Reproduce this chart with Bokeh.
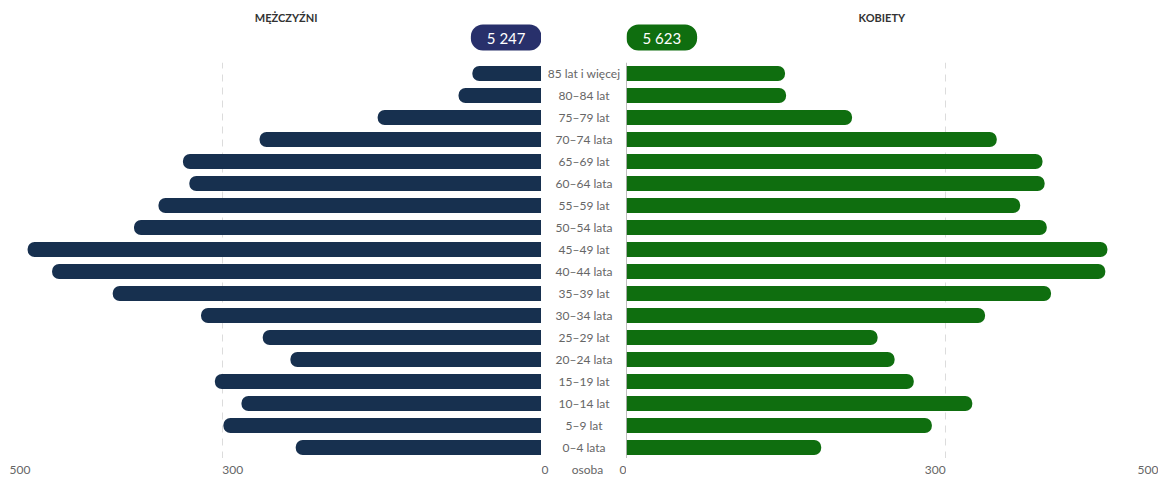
from bokeh.plotting import figure
from bokeh.layouts import column, row
from bokeh.models import (Range1d, FactorRange, FixedTicker, Span, ColumnDataSource,
                          Spacer)
from bokeh.core.properties import value
from bokeh.embed import file_html
from bokeh.resources import INLINE

# ---------------- data (bottom -> top) ----------------
age_groups = ["0–4 lata", "5–9 lat", "10–14 lat", "15–19 lat", "20–24 lata",
              "25–29 lat", "30–34 lata", "35–39 lat", "40–44 lata", "45–49 lat",
              "50–54 lata", "55–59 lat", "60–64 lata", "65–69 lat", "70–74 lata",
              "75–79 lat", "80–84 lat", "85 lat i więcej"]
men = [231, 299, 282, 307, 236, 262, 320, 403, 460, 483,
       383, 360, 331, 337, 265, 154, 78, 65]
women = [183, 287, 325, 270, 252, 236, 337, 399, 450, 452,
         395, 370, 393, 391, 348, 212, 150, 149]
men_total = 5247
women_total = 5623
sex_titles = ["MĘŻCZYŹNI", "KOBIETY"]
axis_ticks = [0, 300, 500]
axis_tick_labels = ["0", "300", "500"]
grid_ticks = [300, 500]
unit_label = "osoba"

# ---------------- style ----------------
FONT = "Lato"
NAVY = "#17304f"
NAVY_BADGE = "#28306b"
GREEN = "#0f6e0f"
LABEL_C = "#666666"

W_SIDE_L, W_MID, W_SIDE_R = 541, 85, 532
H_HEAD, H_BODY, H_STRIP = 59, 399, 19
BODY_TOP = 3


def fmt(n):
    return f"{n:,}".replace(",", " ")


src = ColumnDataSource(dict(age=age_groups, men=men, women=women))
y_range = FactorRange(factors=age_groups)
x_left = Range1d(500, 0)
x_right = Range1d(0, 500)
x_mid = Range1d(0, 1)


def base(width, height, x_range, y_range, **kw):
    p = figure(width=width, height=height, x_range=x_range, y_range=y_range,
               output_backend="svg", toolbar_location=None,
               x_axis_location=None, y_axis_location=None, **kw)
    p.outline_line_color = None
    p.background_fill_color = "white"
    p.border_fill_color = "white"
    return p


def body(x_range, width, mbl, mbr):
    p = base(width, H_BODY, x_range, y_range,
             min_border_left=mbl, min_border_right=mbr,
             min_border_top=BODY_TOP, min_border_bottom=0)
    p.ygrid.grid_line_color = None
    p.xgrid.ticker = FixedTicker(ticks=grid_ticks)
    p.xgrid.grid_line_color = "#dcdcdc"
    p.xgrid.grid_line_dash = "7 6"
    return p


# left (men)
pl = body(x_left, W_SIDE_L, 9, 0)
pl.hbar(y="age", left=0, right="men", height=0.68, source=src,
        fill_color=NAVY, line_color=None, border_radius=(7, 0, 0, 7))
pl.add_layout(Span(location=0, dimension="height", line_color="#808080", line_width=1))

# right (women)
pr = body(x_right, W_SIDE_R, 0, 0)
pr.hbar(y="age", left=0, right="women", height=0.68, source=src,
        fill_color=GREEN, line_color=None, border_radius=(0, 7, 7, 0))
pr.add_layout(Span(location=0, dimension="height", line_color="#808080", line_width=1))

# middle (category labels)
pm = base(W_MID, H_BODY, x_mid, y_range, min_border_left=0, min_border_right=0,
          min_border_top=BODY_TOP, min_border_bottom=0)
pm.grid.grid_line_color = None
pm.text(x=0.5, y="age", text="age", source=src, text_align="center",
        text_baseline="middle", text_font=value(FONT), text_font_size="12px",
        text_color=LABEL_C)


# ---------------- tick-label strip (shares the x scales) ----------------
def strip(x_range, width, mbl):
    s = base(width, H_STRIP, x_range, Range1d(0, H_STRIP),
             min_border_left=mbl, min_border_right=0, min_border_top=0,
             min_border_bottom=0)
    s.grid.visible = False
    return s


def tick_text(s, xs, texts, align):
    s.text(x=xs, y=[8] * len(xs), text=texts, text_align=align,
           text_baseline="middle", text_font=value(FONT), text_font_size="12px",
           text_color=LABEL_C)


# non-zero ticks inside each side panel, the two zero ticks at the centre column
nz = [i for i, t in enumerate(axis_ticks) if t != 0]
z = [i for i, t in enumerate(axis_ticks) if t == 0][0]

sl = strip(x_left, W_SIDE_L, 9)
tick_text(sl, [axis_ticks[i] for i in nz], [axis_tick_labels[i] for i in nz], "left")
sr = strip(x_right, W_SIDE_R, 0)
tick_text(sr, [axis_ticks[i] for i in nz], [axis_tick_labels[i] for i in nz], "right")
sm = strip(x_mid, W_MID, 0)
tick_text(sm, [0], [axis_tick_labels[z]], "left")    # men axis zero (left edge)
tick_text(sm, [1], [axis_tick_labels[z]], "right")   # women axis zero (right edge)
tick_text(sm, [0.54], [unit_label], "center")


# ---------------- headers ----------------
def header(x_range, width, mbl, title, total, color, align):
    h = base(width, H_HEAD, x_range, Range1d(0, H_HEAD),
             min_border_left=mbl, min_border_right=0, min_border_top=0,
             min_border_bottom=0)
    h.grid.visible = False
    h.text(x=[240], y=[H_HEAD - 17], text=[title], text_align="center",
           text_baseline="middle", text_font=value(FONT), text_font_size="11px",
           text_font_style="bold", text_color="#333333")
    h.text(x=[0], y=[H_HEAD - 37], text=[fmt(total)], text_align=align,
           text_baseline="middle", text_font=value(FONT), text_font_size="15px",
           text_color="white", background_fill_color=color, border_radius=12,
           padding=(16, 4))
    return h


hl = header(x_left, W_SIDE_L, 9, sex_titles[0], men_total, NAVY_BADGE, "right")
hr = header(x_right, W_SIDE_R, 0, sex_titles[1], women_total, GREEN, "left")

layout = column(row(hl, Spacer(width=W_MID, height=H_HEAD), hr),
                row(pl, pm, pr),
                row(sl, sm, sr))

open("out.html", "w").write(file_html(layout, INLINE))
